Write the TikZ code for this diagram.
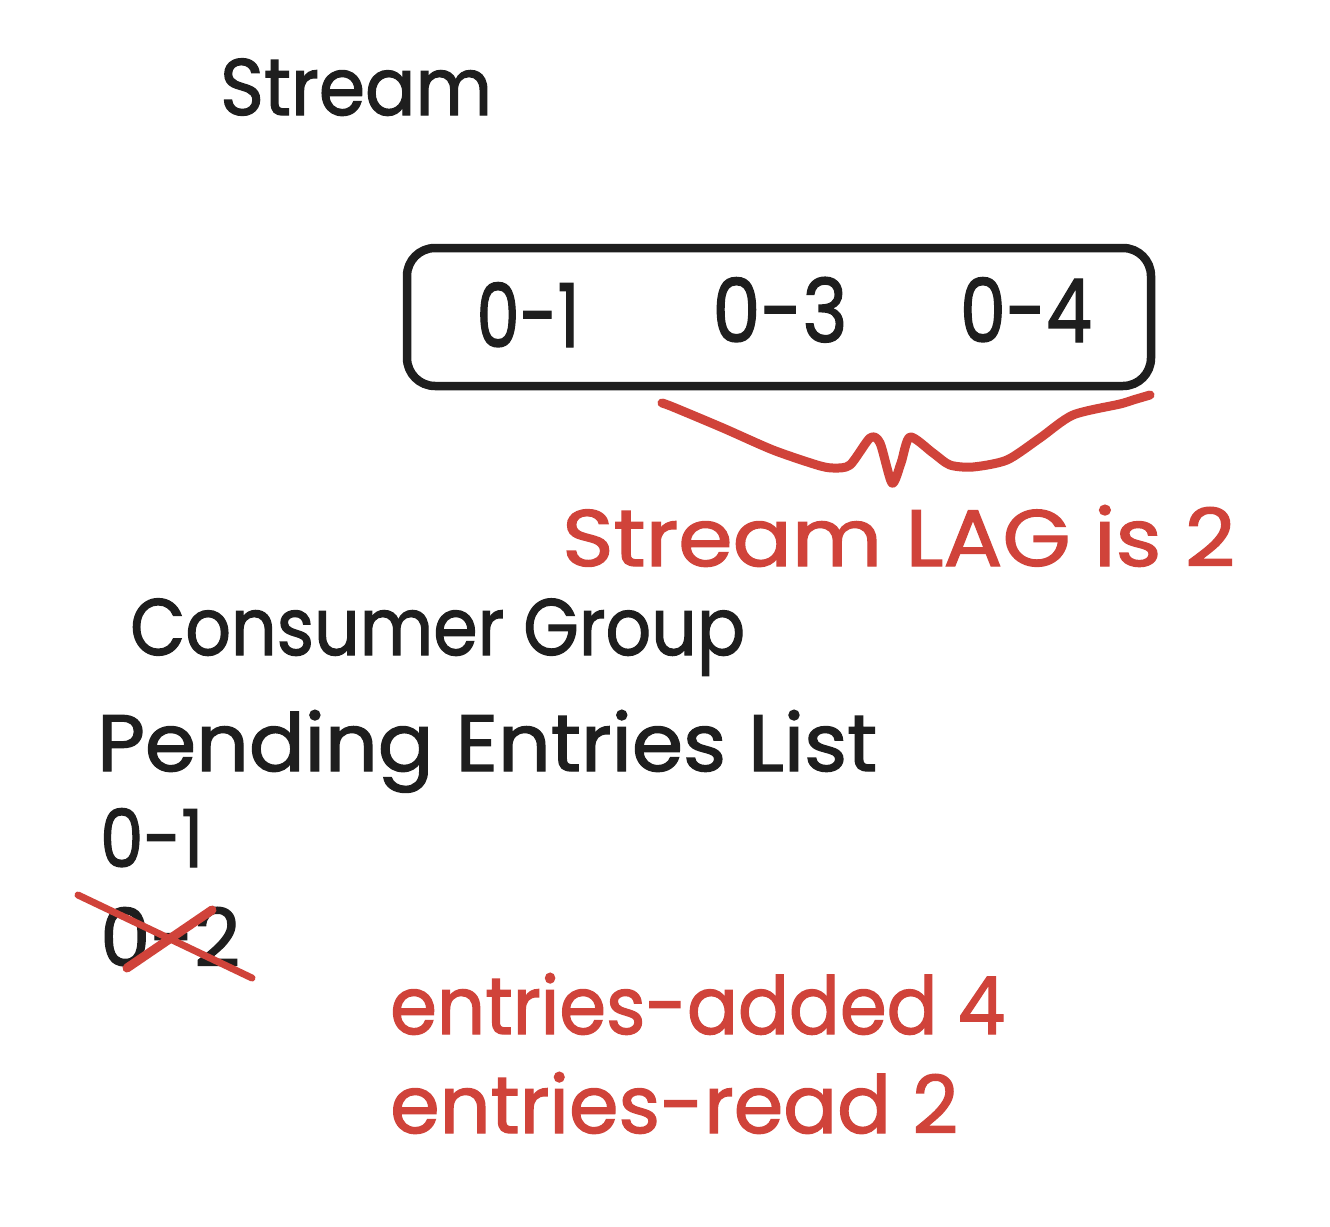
\documentclass[tikz,border=0pt]{standalone}
\usepackage{fontspec}
\setmainfont{Poppins}[FakeBold=1.6]
\definecolor{ink}{HTML}{1E1E1E}
\definecolor{redink}{HTML}{D0433A}
\newcommand\fitw[2]{\resizebox{#1pt}{\height}{#2}}
\begin{document}
\begin{tikzpicture}[x=1pt,y=-1pt,
  txt/.style={inner sep=0pt, anchor=base west, font=\fontsize{80}{96}\selectfont, text=ink},
  redtxt/.style={txt, text=redink},
  digit/.style={inner sep=0pt, anchor=base, font=\fontsize{88}{100}\selectfont, text=ink},
  streambox/.style={draw=ink, line width=8.5pt, rounded corners=28pt, inner sep=0pt},
  brace/.style={draw=redink, line width=9pt, line cap=round, line join=round},
  cross/.style={draw=redink, line width=7pt, line cap=round}]
\useasboundingbox (0,0) rectangle (1330,1226);
\fill[white] (0,0) rectangle (1330,1226);

\node[txt] (stream) at (220,115) {\fitw{272}{Stream}};

\node[streambox, minimum width=744pt, minimum height=138pt] (box) at (779,317) {};
\node[digit] (e1) at (528,347) {\fitw{103}{0-1}};
\node[digit] (e3) at (780,342) {\fitw{135}{0-3}};
\node[digit] (e4) at (1026,342) {\fitw{132}{0-4}};

\draw[brace] plot[smooth, tension=0.45] coordinates {
  (662,403) (673,407) (723,428) (773,450) (817,465) (833,468) (850,465)
  (870,438) (880,443) (892,483) (901,463) (910,437) (933,453) (950,465)
  (973,467) (1007,460) (1040,438) (1073,415) (1120,404) (1133,400) (1150,395)};

\node[redtxt] (lag) at (562,566) {\fitw{673}{Stream LAG is 2}};

\node[txt] (cg) at (130,655) {\fitw{615}{Consumer Group}};
\node[txt] (pel) at (97,771) {\fitw{780}{Pending Entries List}};
\node[txt] (p1) at (100,867) {\fitw{103}{0-1}};
\node[txt] (p2) at (100,966) {\fitw{140}{0-2}};
\draw[cross] (78,895) -- (252,978);
\draw[cross, line width=9pt] (127,968) -- (212,910);

\node[redtxt] (added) at (390,1034) {\fitw{615}{entries-added 4}};
\node[redtxt] (read) at (390,1133) {\fitw{568}{entries-read 2}};
\end{tikzpicture}
\end{document}
